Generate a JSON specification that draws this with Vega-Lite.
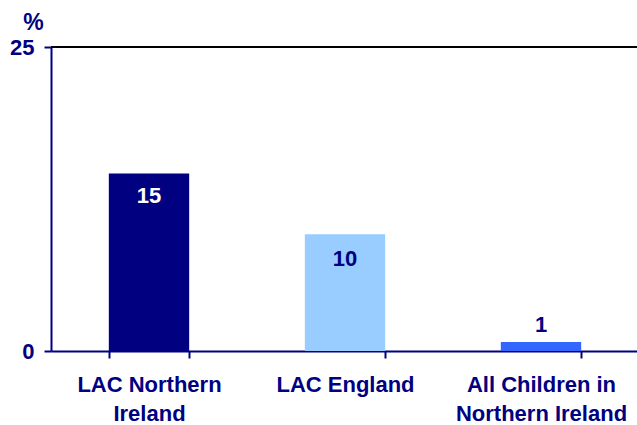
{
  "$schema": "https://vega.github.io/schema/vega-lite/v6.json",
  "width": 588,
  "height": 304,
  "autosize": {"type": "none"},
  "padding": {"left": 51, "top": 47, "right": 0, "bottom": 74},
  "background": "white",
  "config": {
    "view": {"stroke": null},
    "font": "Liberation Sans"
  },
  "data": {
    "values": [
      {"group": "LAC Northern Ireland", "pct": 14.6, "label": "15"},
      {"group": "LAC England", "pct": 9.6, "label": "10"},
      {"group": "All Children in Northern Ireland", "pct": 0.75, "label": "1"}
    ]
  },
  "encoding": {
    "x": {
      "field": "group",
      "type": "nominal",
      "sort": null,
      "scale": {"paddingInner": 0.59, "paddingOuter": 0.295},
      "axis": {
        "title": null,
        "labelAngle": 0,
        "labelFont": "Liberation Sans",
        "labelFontWeight": "bold",
        "labelFontSize": 22,
        "labelColor": "#000080",
        "labelLineHeight": 29,
        "labelPadding": 16,
        "labelBaseline": "top",
        "labelExpr": "datum.value == 'LAC Northern Ireland' ? ['LAC Northern', 'Ireland'] : datum.value == 'All Children in Northern Ireland' ? ['All Children in', 'Northern Ireland'] : datum.value",
        "domainColor": "#000080",
        "domainWidth": 2,
        "tickColor": "#000080",
        "tickWidth": 2,
        "tickSize": 7,
        "tickBand": "extent",
        "grid": false
      }
    },
    "y": {
      "field": "pct",
      "type": "quantitative",
      "scale": {"domain": [0, 25], "nice": false},
      "axis": {
        "values": [0, 25],
        "title": "%",
        "titleAngle": 0,
        "titleX": -18,
        "titleY": -18,
        "titleAlign": "center",
        "titleBaseline": "alphabetic",
        "titleFont": "Liberation Sans",
        "titleFontWeight": "bold",
        "titleFontSize": 23,
        "titleColor": "#000080",
        "labelFont": "Liberation Sans",
        "labelFontWeight": "bold",
        "labelFontSize": 22,
        "labelColor": "#000080",
        "labelPadding": 10,
        "domainColor": "#000080",
        "domainWidth": 2,
        "tickColor": "#000080",
        "tickWidth": 2,
        "tickSize": 7,
        "grid": false
      }
    }
  },
  "layer": [
    {
      "mark": {"type": "bar"},
      "encoding": {
        "color": {
          "field": "group",
          "type": "nominal",
          "legend": null,
          "scale": {
            "domain": ["LAC Northern Ireland", "LAC England", "All Children in Northern Ireland"],
            "range": ["#000080", "#99CCFF", "#3366FF"]
          }
        }
      }
    },
    {
      "mark": {"type": "rule", "color": "black", "strokeWidth": 2},
      "encoding": {"y": {"datum": 25}, "x": {"value": 0}, "x2": {"value": 600}}
    },
    {
      "transform": [{"filter": "datum.group == 'LAC Northern Ireland'"}],
      "mark": {"type": "text", "color": "white", "fontWeight": "bold", "fontSize": 22, "baseline": "alphabetic", "dy": 30},
      "encoding": {"text": {"field": "label"}}
    },
    {
      "transform": [{"filter": "datum.group == 'LAC England'"}],
      "mark": {"type": "text", "color": "#000080", "fontWeight": "bold", "fontSize": 22, "baseline": "alphabetic", "dy": 32},
      "encoding": {"text": {"field": "label"}}
    },
    {
      "transform": [{"filter": "datum.group == 'All Children in Northern Ireland'"}],
      "mark": {"type": "text", "color": "#000080", "fontWeight": "bold", "fontSize": 22, "baseline": "alphabetic", "dy": -10},
      "encoding": {"text": {"field": "label"}}
    }
  ]
}
